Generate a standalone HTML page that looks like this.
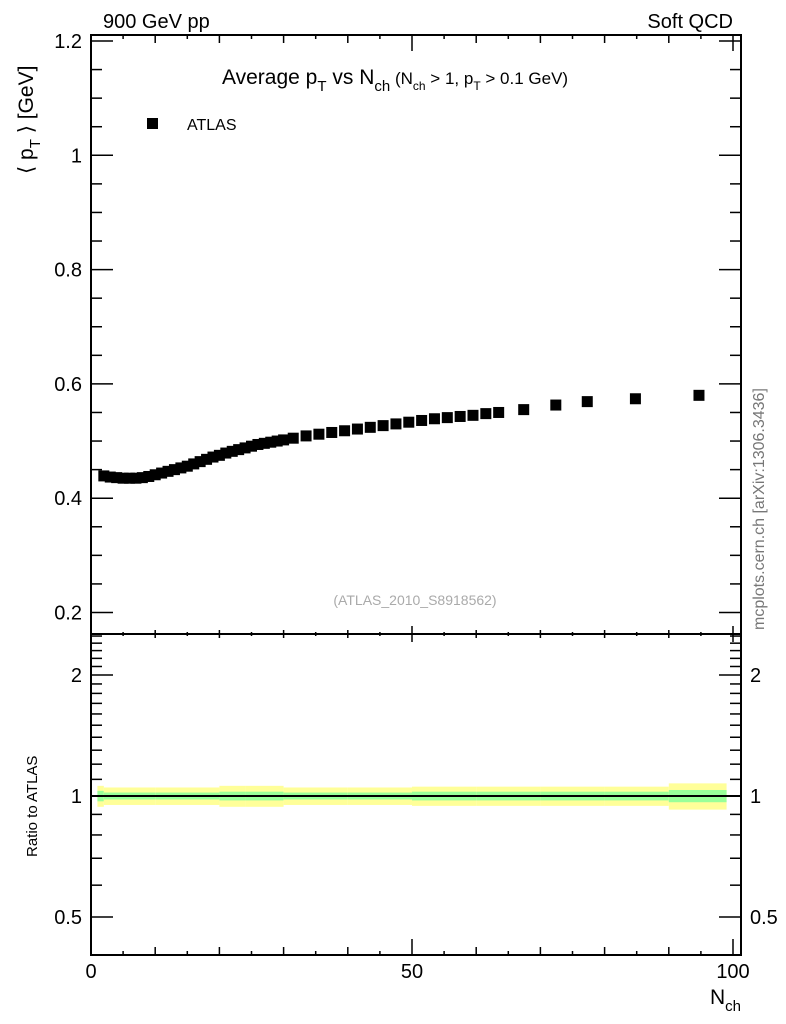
<!DOCTYPE html>
<html><head><meta charset="utf-8"><style>
body{margin:0;background:#fff}
svg{display:block;font-family:"Liberation Sans",sans-serif}
</style></head><body>
<svg id="c" width="786" height="1024" viewBox="0 0 786 1024">
<text x="103" y="28" font-size="20">900 GeV pp</text>
<text x="733" y="28" font-size="20" text-anchor="end">Soft QCD</text>
<text x="222" y="84" font-size="21">Average p<tspan font-size="15" dy="7">T</tspan><tspan dy="-7"> vs N</tspan><tspan font-size="15" dy="7">ch</tspan><tspan dy="-7" font-size="17"> (N</tspan><tspan font-size="12" dy="6">ch</tspan><tspan dy="-6" font-size="17"> &gt; 1, p</tspan><tspan font-size="12" dy="6">T</tspan><tspan dy="-6" font-size="17"> &gt; 0.1 GeV)</tspan></text>
<rect x="147" y="118" width="11" height="11" fill="#000"/>
<text x="187" y="130" font-size="16">ATLAS</text>
<text x="415" y="605" font-size="14" fill="#aaa" text-anchor="middle">(ATLAS_2010_S8918562)</text>
<text transform="translate(764,630) rotate(-90)" font-size="16" fill="#777">mcplots.cern.ch [arXiv:1306.3436]</text>
<text transform="translate(33,174) rotate(-90)" font-size="21">⟨ p<tspan font-size="15" dy="7">T</tspan><tspan dy="-7"> ⟩ [GeV]</tspan></text>
<text transform="translate(37,857) rotate(-90)" font-size="15">Ratio to ATLAS</text>
<text x="710" y="1004" font-size="21">N<tspan font-size="15" dy="7">ch</tspan></text>
<g id="main"></g><g id="ratio"></g>
</svg>
<script>
const nch=[2,3,4,5,6,7,8,9,10,11,12,13,14,15,16,17,18,19,20,21,22,23,24,25,26,27,28,29,30,31.5,33.5,35.5,37.5,39.5,41.5,43.5,45.5,47.5,49.5,51.5,53.5,55.5,57.5,59.5,61.5,63.5,67.4,72.4,77.3,84.8,94.7];
const meanPt=[0.439,0.437,0.436,0.435,0.435,0.435,0.436,0.438,0.441,0.444,0.447,0.450,0.453,0.456,0.460,0.464,0.468,0.472,0.475,0.479,0.482,0.485,0.488,0.491,0.494,0.496,0.498,0.500,0.502,0.505,0.509,0.512,0.515,0.518,0.521,0.524,0.527,0.530,0.533,0.536,0.539,0.541,0.543,0.545,0.548,0.550,0.555,0.563,0.569,0.574,0.580];
const bandEdges=[1,2,10,20,24,30,40,50,60,70,80,90,99];
const greenErr=[0.03,0.02,0.02,0.025,0.025,0.02,0.02,0.025,0.025,0.025,0.025,0.035];
const yellowErr=[0.06,0.05,0.05,0.06,0.06,0.05,0.05,0.055,0.055,0.055,0.055,0.075];
const yTicks=[0.2,0.4,0.6,0.8,1,1.2];
const rTicks=[0.5,1,2];
const xTicks=[0,50,100];
const NS='http://www.w3.org/2000/svg';
const L=91,R=741,T=35,B=634,RT=634,RB=955;
const X=v=>91+v*6.42;
const Y=v=>41+(1.2-v)/0.2*114.3;
const RY=r=>796-Math.log2(r)*121;
function mk(p,t,a){const e=document.createElementNS(NS,t);for(const k in a)e.setAttribute(k,a[k]);p.appendChild(e);return e;}
const main=document.getElementById('main'),ratio=document.getElementById('ratio');
for(let i=0;i<greenErr.length;i++){
 const x1=X(bandEdges[i]),x2=X(bandEdges[i+1]);
 const y=mk(ratio,'rect',{x:x1,y:RY(1+yellowErr[i]),width:x2-x1,height:RY(1-yellowErr[i])-RY(1+yellowErr[i]),fill:'#ffff99'});
 
 
 const g=mk(ratio,'rect',{x:x1,y:RY(1+greenErr[i]),width:x2-x1,height:RY(1-greenErr[i])-RY(1+greenErr[i]),fill:'#99ff99'});
 
 
}
const ln=mk(ratio,'line',{x1:L,x2:R,y1:RY(1),y2:RY(1),stroke:'#000','stroke-width':2});


nch.forEach((n,i)=>{
 const r=mk(main,'rect',{x:X(n)-5.5,y:Y(meanPt[i])-5.5,width:11,height:11,fill:'#000'});
 
 
});
[[T,B],[RT,RB]].forEach(([t,b])=>{
 const f=mk(main,'rect',{x:L,y:t,width:R-L,height:b-t,fill:'none',stroke:'#000','stroke-width':2});
 
 
});
function tick(x1,y1,x2,y2){mk(main,'line',{x1,y1,x2,y2,stroke:'#000','stroke-width':1.5});}
for(let v=0.2;v<=1.201;v+=0.05){const y=Y(v);const big=Math.abs(v*5-Math.round(v*5))<1e-6;const l=big?22:11;tick(L,y,L+l,y);tick(R,y,R-l,y);}
yTicks.forEach(v=>{const t=mk(main,'text',{x:82,y:Y(v)+7,'font-size':20,'text-anchor':'end'});t.textContent=String(v===1?'1':v.toFixed(1));
 
 });
for(let v=0;v<=100;v+=5){const x=X(v),l=v%50===0?16:(v%10===0?8:4);
 tick(x,RB,x,RB-l);tick(x,T,x,T+l);tick(x,B-l/2,x,B+l/2);}
xTicks.forEach(v=>{const t=mk(main,'text',{x:X(v),y:978,'font-size':20,'text-anchor':'middle'});t.textContent=String(v);
 
 });
const minor=[0.5,0.6,0.7,0.8,0.9,1,1.1,1.2,1.3,1.4,1.5,1.6,1.7,1.8,1.9,2,2.1,2.2,2.3,2.4,2.5];
minor.forEach(v=>{const y=RY(v),l=rTicks.includes(v)?22:11;tick(L,y,L+l,y);tick(R,y,R-l,y);});
rTicks.forEach(v=>{
 const a=mk(main,'text',{x:82,y:RY(v)+7,'font-size':20,'text-anchor':'end'});a.textContent=String(v);
 
 
 const b=mk(main,'text',{x:750,y:RY(v)+7,'font-size':20});b.textContent=String(v);
 
 
});
</script>
</body></html>
